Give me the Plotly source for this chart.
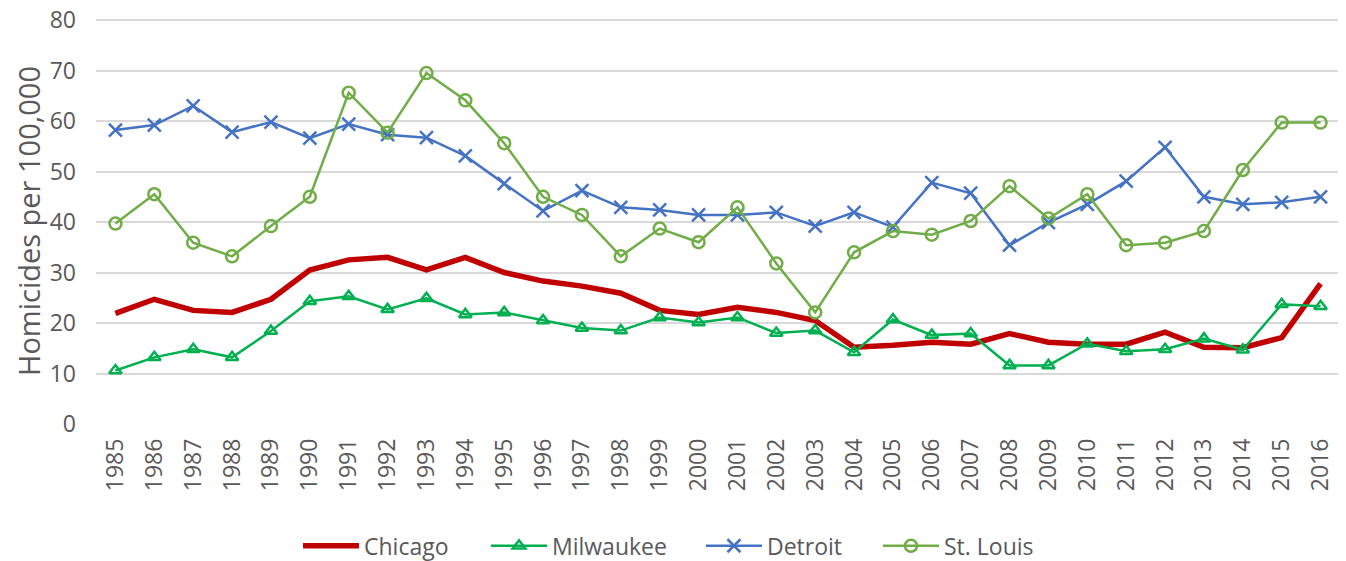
import plotly.graph_objects as go

years = [str(y) for y in range(1985, 2017)]
chicago = [21.9, 24.7, 22.5, 22.1, 24.7, 30.5, 32.5, 33.0, 30.5, 33.0, 30.0, 28.3, 27.3, 25.9, 22.5, 21.7,
           23.1, 22.1, 20.5, 15.2, 15.6, 16.2, 15.8, 17.9, 16.2, 15.8, 15.8, 18.2, 15.2, 15.1, 17.1, 27.8]
milwaukee = [10.6, 13.2, 14.8, 13.2, 18.4, 24.3, 25.3, 22.7, 24.9, 21.7, 22.1, 20.5, 19.0, 18.5, 21.1, 20.1,
             21.1, 18.0, 18.5, 14.2, 20.7, 17.6, 17.9, 11.6, 11.6, 15.9, 14.4, 14.8, 16.9, 14.7, 23.7, 23.3]
detroit = [58.2, 59.2, 63.0, 57.8, 59.8, 56.6, 59.4, 57.3, 56.7, 53.1, 47.6, 42.2, 46.2, 42.9, 42.4, 41.4,
           41.4, 41.9, 39.2, 41.9, 39.0, 47.8, 45.7, 35.4, 39.9, 43.5, 48.1, 54.8, 45.0, 43.5, 43.9, 45.0]
stlouis = [39.7, 45.5, 35.9, 33.2, 39.2, 45.0, 65.6, 57.7, 69.5, 64.1, 55.6, 45.0, 41.4, 33.2, 38.7, 36.0,
           42.9, 31.8, 22.1, 34.0, 38.2, 37.5, 40.2, 47.1, 40.7, 45.5, 35.4, 35.9, 38.2, 50.3, 59.7, 59.7]
y_ticks = [0, 10, 20, 30, 40, 50, 60, 70, 80]

FONT = "'Open Sans', sans-serif"
TXT = "#595959"

fig = go.Figure()
fig.add_trace(go.Scatter(x=years, y=chicago, name="Chicago", mode="lines", legend="legend",
                         line=dict(color="#C00000", width=5.5)))
fig.add_trace(go.Scatter(x=years, y=milwaukee, name="Milwaukee", mode="lines+markers", legend="legend2",
                         line=dict(color="#00B050", width=2.5),
                         marker=dict(symbol="triangle-up-open", size=11, color="#00B050",
                                     line=dict(width=2.5, color="#00B050"))))
fig.add_trace(go.Scatter(x=years, y=detroit, name="Detroit", mode="lines+markers", legend="legend3",
                         line=dict(color="#4472C4", width=2.5),
                         marker=dict(symbol="x-thin-open", size=13, color="#4472C4",
                                     line=dict(width=2.5, color="#4472C4"))))
fig.add_trace(go.Scatter(x=years, y=stlouis, name="St. Louis", mode="lines+markers", legend="legend4",
                         line=dict(color="#70AD47", width=2.5),
                         marker=dict(symbol="circle-open", size=12, color="#70AD47",
                                     line=dict(width=2.5, color="#70AD47"))))

def leg(x):
    return dict(orientation="h", x=x, xanchor="left", y=-0.3, yanchor="middle",
                font=dict(size=23, color=TXT), itemwidth=56, bgcolor="rgba(0,0,0,0)")

# page body adds an 8px offset, so the figure is 8px smaller and margins shifted
fig.update_layout(
    width=1338, height=553,
    margin=dict(l=88, r=6, t=10, b=137, autoexpand=False),
    paper_bgcolor="white", plot_bgcolor="white",
    font=dict(family=FONT, color=TXT, size=20),
    showlegend=True,
    legend=leg(0.1624), legend2=leg(0.3135), legend3=leg(0.4863), legend4=leg(0.6286),
    xaxis=dict(type="category", tickangle=-90, showgrid=False, zeroline=False, showline=False,
               ticks="", tickfont=dict(size=23, color=TXT), ticklabelstandoff=9,
               range=[-0.5, len(years) - 0.5]),
    yaxis=dict(range=[0, 80.4], tickvals=y_ticks, showgrid=True, gridcolor="#D9D9D9", gridwidth=2,
               zeroline=False, showline=False, ticks="", tickfont=dict(size=23, color=TXT),
               ticklabelstandoff=19, ticklabeloverflow="allow",
               title=dict(text="Homicides per 100,000", font=dict(size=29, color=TXT), standoff=0)),
)

fig.write_html("out.html")
